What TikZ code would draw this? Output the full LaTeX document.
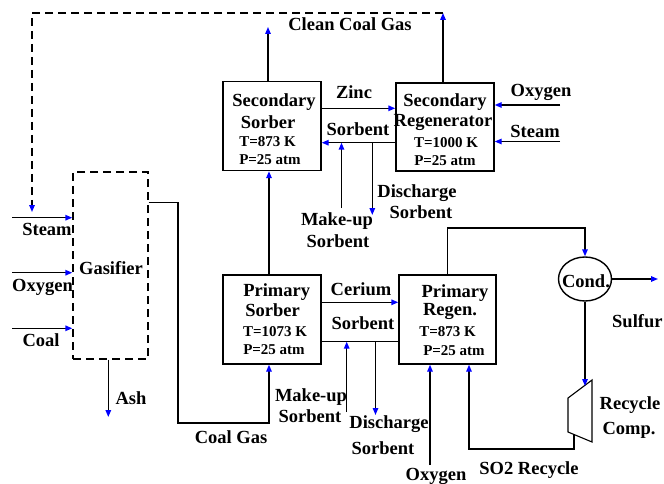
\documentclass[tikz,border=0pt]{standalone}
\usepackage{fontspec}
\setmainfont{Liberation Serif}
\usetikzlibrary{arrows.meta,shapes.geometric}
\tikzset{
    unit/.style={draw, line width=1.4pt, inner sep=0pt},
    lbl/.style={font=\fontsize{18.5}{20}\selectfont\bfseries, inner sep=0pt},
    small/.style={font=\fontsize{15}{16}\selectfont\bfseries, inner sep=0pt},
    flow/.style={line width=1.4pt, -{Triangle[length=7pt,width=5.5pt,color=blue]}},
    pipe/.style={line width=1.4pt},
    recycle/.style={line width=1.4pt, dash pattern=on 8pt off 5pt},
}
\begin{document}
\begin{tikzpicture}[x=1pt,y=-1pt]
    \useasboundingbox (0,0) rectangle (664,484);

    \node[unit, minimum width=98pt, minimum height=89pt] (ssorb) at (272,126) {};
    \node[unit, minimum width=98pt, minimum height=88pt] (sregen) at (445,127) {};
    \node[unit, minimum width=98pt, minimum height=89pt] (psorb) at (272,319.5) {};
    \node[unit, minimum width=97pt, minimum height=89pt] (pregen) at (447.5,319.5) {};
    \node[unit, recycle, minimum width=75pt, minimum height=187pt] (gasif) at (110.5,265.5) {};
    \node[unit, ellipse, minimum width=53pt, minimum height=44pt] (cond) at (585,279) {};

    \node[lbl] (ssorb1) at (274,101.7) {Secondary};
    \node[lbl] (ssorb2) at (268,121.7) {Sorber};
    \node[small] (ssorb3) at (267.5,141.7) {T=873 K};
    \node[small] (ssorb4) at (270,159.5) {P=25 atm};

    \node[lbl] (sregen1) at (445,102) {Secondary};
    \node[lbl] (sregen2) at (443,122.3) {Regenerator};
    \node[small] (sregen3) at (446,142.7) {T=1000 K};
    \node[small] (sregen4) at (445,160.7) {P=25 atm};

    \node[lbl] (psorb1) at (276.7,291.7) {Primary};
    \node[lbl] (psorb2) at (272.5,310) {Sorber};
    \node[small] (psorb3) at (275,331.7) {T=1073 K};
    \node[small] (psorb4) at (274,350) {P=25 atm};

    \node[lbl] (pregen1) at (455,293.3) {Primary};
    \node[lbl] (pregen2) at (450,311.7) {Regen.};
    \node[small] (pregen3) at (447.5,331.7) {T=873 K};
    \node[small] (pregen4) at (454,350.7) {P=25 atm};

    \node[lbl] (lgasif) at (111,268) {Gasifier};
    \node[lbl] (lcond) at (586,281) {Cond.};

    \node[lbl] (lclean) at (350,24) {Clean Coal Gas};
    \node[lbl] (lzinc) at (354,92) {Zinc};
    \node[lbl] (lzsorb) at (358,129) {Sorbent};
    \node[lbl] (lmk1a) at (337,221) {Make-up};
    \node[lbl] (lmk1b) at (338,241) {Sorbent};
    \node[lbl] (ldis1a) at (417,193) {Discharge};
    \node[lbl] (ldis1b) at (421,212) {Sorbent};
    \node[lbl] (loxy1) at (541,92) {Oxygen};
    \node[lbl] (lsteam1) at (535,131) {Steam};
    \node[lbl] (lcer) at (361,289) {Cerium};
    \node[lbl] (lcsorb) at (363,323) {Sorbent};
    \node[lbl] (lmk2a) at (311,397) {Make-up};
    \node[lbl] (lmk2b) at (310,416) {Sorbent};
    \node[lbl] (ldis2a) at (389,424) {Discharge};
    \node[lbl] (ldis2b) at (383,448) {Sorbent};
    \node[lbl] (lcoalgas) at (231,437) {Coal Gas};
    \node[lbl] (loxy2) at (436,476) {Oxygen};
    \node[lbl] (lso2) at (529,470) {SO2 Recycle};
    \node[lbl] (lrec) at (630,405) {Recycle};
    \node[lbl] (lcomp) at (629,430) {Comp.};
    \node[lbl, anchor=west] (lsulf) at (612,321) {Sulfur};
    \node[lbl] (lsteam2) at (47,229) {Steam};
    \node[lbl] (loxy3) at (42.5,287) {Oxygen};
    \node[lbl] (lcoal) at (41,340) {Coal};
    \node[lbl] (lash) at (131,398) {Ash};

    \coordinate (cmpA) at (568,398);
    \coordinate (cmpB) at (592,380);
    \coordinate (cmpC) at (592,442);
    \coordinate (cmpD) at (568,432);
    \draw[line width=1.1pt] (cmpA) -- (cmpB) -- (cmpC) -- (cmpD) -- cycle;

    \coordinate (cleanout) at (268,27);
    \coordinate (recyc) at (443,13);
    \coordinate (recycL) at (32,13);
    \coordinate (recycD) at (32,212);
    \coordinate (zincy) at (0,108.3);
    \coordinate (sret) at (0,142.7);
    \coordinate (oxin) at (560,105);
    \coordinate (stin) at (560,141.5);
    \coordinate (mk1) at (341.5,208);
    \coordinate (dis1) at (372.3,215);
    \coordinate (pss) at (269,0);
    \coordinate (cer) at (0,302.3);
    \coordinate (prail) at (0,341.7);
    \coordinate (mk2) at (346.7,412);
    \coordinate (dis2) at (375.5,415);
    \coordinate (stin2) at (12,217.7);
    \coordinate (oxin2) at (12,272.7);
    \coordinate (coalin) at (12,328.3);
    \coordinate (gasout) at (0,202.5);
    \coordinate (cgcorner) at (178,423);
    \coordinate (ashout) at (108.3,417);
    \coordinate (condtop) at (585,228);
    \coordinate (sulfout) at (658,280);
    \coordinate (cmpin) at (585,386);
    \coordinate (cmpout) at (574,434.5);
    \coordinate (so2corner) at (469,449);
    \coordinate (oxin3) at (430,465);

    \draw[flow] (cleanout |- ssorb.north) -- (cleanout);
    \draw[flow] (recyc |- sregen.north) -- (recyc);
    \draw[recycle, -{Triangle[length=7pt,width=5.5pt,color=blue]}] (recyc) -- (recycL) -- (recycD);

    \draw[flow] (ssorb.east |- zincy) -- (sregen.west |- zincy);
    \draw[flow] (sregen.west |- sret) -- (ssorb.east |- sret);
    \draw[flow] (mk1) -- (mk1 |- sret);
    \draw[flow] (dis1 |- sret) -- (dis1);
    \draw[flow] (oxin) -- (sregen.east |- oxin);
    \draw[flow] (stin) -- (sregen.east |- stin);

    \draw[flow] (pss |- psorb.north) -- (pss |- ssorb.south);
    \draw[flow] (psorb.east |- cer) -- (pregen.west |- cer);
    \draw[pipe] (psorb.east |- prail) -- (pregen.west |- prail);
    \draw[flow] (mk2) -- (mk2 |- prail);
    \draw[flow] (dis2 |- prail) -- (dis2);

    \draw[flow] (stin2) -- (gasif.west |- stin2);
    \draw[flow] (oxin2) -- (gasif.west |- oxin2);
    \draw[flow] (coalin) -- (gasif.west |- coalin);
    \draw[flow] (ashout |- gasif.south) -- (ashout);
    \draw[flow] (gasif.east |- gasout) -| (cgcorner) -| (pss |- psorb.south);

    \draw[flow] (pregen.north) |- (condtop) -- (cond.north);
    \draw[flow] (cond.east) -- (cond.east -| sulfout);
    \draw[flow] (cond.south) -- (cmpin);
    \draw[flow] (cmpout) |- (so2corner) -- (so2corner |- pregen.south);
    \draw[flow] (oxin3) -- (oxin3 |- pregen.south);
\end{tikzpicture}
\end{document}
